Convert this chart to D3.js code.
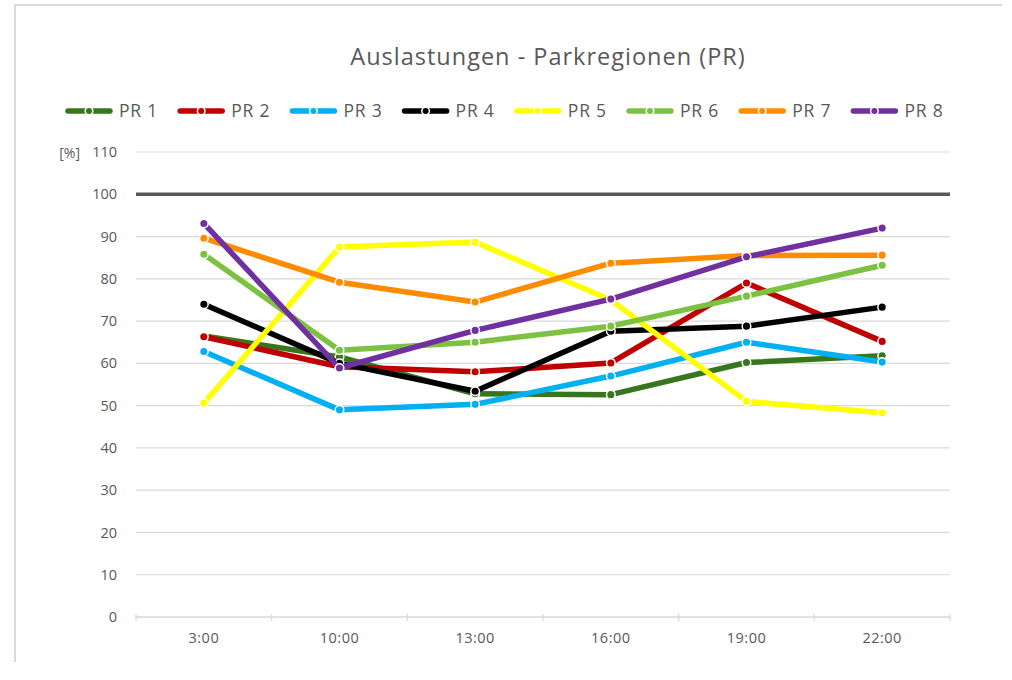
<!DOCTYPE html>
<html>
<head>
<meta charset="utf-8">
<script src="https://cdn.jsdelivr.net/npm/d3@7"></script>
<style>
  body { margin: 0; background: #fff; }
  text { font-family: "Open Sans", "Noto Sans", sans-serif; fill: #595959; }
</style>
</head>
<body>
<div id="chart"></div>
<script>
const times = ['3:00', '10:00', '13:00', '16:00', '19:00', '22:00'];
const seriesNames = ['PR 1', 'PR 2', 'PR 3', 'PR 4', 'PR 5', 'PR 6', 'PR 7', 'PR 8'];
const seriesColors = ['#38761d', '#c00000', '#00b0f0', '#000000', '#ffff00', '#7cc142', '#ff8c00', '#7030a0'];
const pr1 = [66.5, 61.5, 52.8, 52.6, 60.2, 61.8];
const pr2 = [66.3, 59.2, 58.0, 60.1, 79.0, 65.2];
const pr3 = [62.8, 49.0, 50.3, 57.0, 65.0, 60.3];
const pr4 = [74.0, 60.0, 53.4, 67.6, 68.8, 73.3];
const pr5 = [50.6, 87.5, 88.7, 75.0, 51.0, 48.3];
const pr6 = [85.8, 63.1, 65.0, 68.8, 75.9, 83.2];
const pr7 = [89.6, 79.2, 74.5, 83.7, 85.5, 85.6];
const pr8 = [93.1, 58.9, 67.8, 75.2, 85.2, 92.0];
const yTicks = [0, 10, 20, 30, 40, 50, 60, 70, 80, 90, 100, 110];
const refValue = 100;

const allSeries = [pr1, pr2, pr3, pr4, pr5, pr6, pr7, pr8].map((v, i) => ({
  name: seriesNames[i], color: seriesColors[i], values: v
}));

const W = 1012, H = 680;
const margin = { top: 152, left: 136, right: 62, bottom: 63 };
const width = W - margin.left - margin.right;
const height = H - margin.top - margin.bottom;

const svg = d3.select('#chart').append('svg')
  .attr('width', W).attr('height', H);

// frame
svg.append('path')
  .attr('d', `M15,662 L15,5 L1002,5`)
  .attr('fill', 'none').attr('stroke', '#d9d9d9').attr('stroke-width', 2);

svg.append('text')
  .attr('x', 548).attr('y', 65)
  .attr('text-anchor', 'middle')
  .style('font-size', '23.5px')
  .style('letter-spacing', '1px')
  .text('Auslastungen - Parkregionen (PR)');

const g = svg.append('g').attr('transform', `translate(${margin.left},${margin.top})`);

const x = d3.scaleBand().domain(times).range([0, width]);
const y = d3.scaleLinear().domain([0, 110]).range([height, 0]);

// gridlines
g.selectAll('line.grid').data(yTicks.filter(d => d !== 0 && d !== refValue))
  .enter().append('line')
  .attr('class', 'grid')
  .attr('x1', 0).attr('x2', width)
  .attr('y1', d => y(d)).attr('y2', d => y(d))
  .attr('stroke', '#d9d9d9').attr('stroke-width', 1.2);

// bottom axis line with ticks at category boundaries
g.append('line')
  .attr('x1', 0).attr('x2', width)
  .attr('y1', y(0)).attr('y2', y(0))
  .attr('stroke', '#d9d9d9').attr('stroke-width', 1.5);
g.selectAll('line.tick').data(d3.range(times.length + 1))
  .enter().append('line')
  .attr('x1', i => i * x.bandwidth()).attr('x2', i => i * x.bandwidth())
  .attr('y1', y(0) - 3).attr('y2', y(0) + 4)
  .attr('stroke', '#d9d9d9').attr('stroke-width', 1.2);

// 100% reference line
g.append('line')
  .attr('x1', 0).attr('x2', width)
  .attr('y1', y(refValue)).attr('y2', y(refValue))
  .attr('stroke', '#595959').attr('stroke-width', 3.5);

// y tick labels
g.selectAll('text.ylab').data(yTicks)
  .enter().append('text')
  .attr('x', -19).attr('y', d => y(d))
  .attr('dy', '0.35em')
  .attr('text-anchor', 'end')
  .style('font-size', '14.5px')
  .text(d => d);

g.append('text')
  .attr('x', -56).attr('y', 6)
  .attr('text-anchor', 'end')
  .style('font-size', '14px')
  .text('[%]');

// x labels
g.selectAll('text.xlab').data(times)
  .enter().append('text')
  .attr('x', d => x(d) + x.bandwidth() / 2)
  .attr('y', y(0) + 26)
  .attr('text-anchor', 'middle')
  .style('font-size', '14.5px')
  .style('letter-spacing', '0.5px')
  .text(d => d);

// lines
const line = d3.line()
  .x((d, i) => x(times[i]) + x.bandwidth() / 2)
  .y(d => y(d));

const series = g.selectAll('g.series').data(allSeries)
  .enter().append('g').attr('class', 'series');

series.append('path')
  .attr('d', d => line(d.values))
  .attr('fill', 'none')
  .attr('stroke', d => d.color)
  .attr('stroke-width', 5.5)
  .attr('stroke-linejoin', 'round');

series.selectAll('circle')
  .data(d => d.values.map(v => ({ v, color: d.color })))
  .enter().append('circle')
  .attr('cx', (d, i) => x(times[i]) + x.bandwidth() / 2)
  .attr('cy', d => y(d.v))
  .attr('r', 4.3)
  .attr('fill', d => d.color)
  .attr('stroke', '#fff')
  .attr('stroke-width', 1.5);

// legend
const legend = svg.append('g').attr('transform', 'translate(66,111)');
const item = legend.selectAll('g.item').data(allSeries)
  .enter().append('g')
  .attr('transform', (d, i) => `translate(${i * 112.2},0)`);

item.append('line')
  .attr('x1', 2).attr('x2', 44)
  .attr('y1', 0).attr('y2', 0)
  .attr('stroke', d => d.color)
  .attr('stroke-width', 5.5)
  .attr('stroke-linecap', 'round');
item.append('circle')
  .attr('cx', 23).attr('cy', 0).attr('r', 3.8)
  .attr('fill', d => d.color)
  .attr('stroke', '#fff').attr('stroke-width', 1.5);
item.append('text')
  .attr('x', 53).attr('y', 0).attr('dy', '0.35em')
  .style('font-size', '17.5px')
  .style('letter-spacing', '0.8px')
  .text(d => d.name);
</script>
</body>
</html>
